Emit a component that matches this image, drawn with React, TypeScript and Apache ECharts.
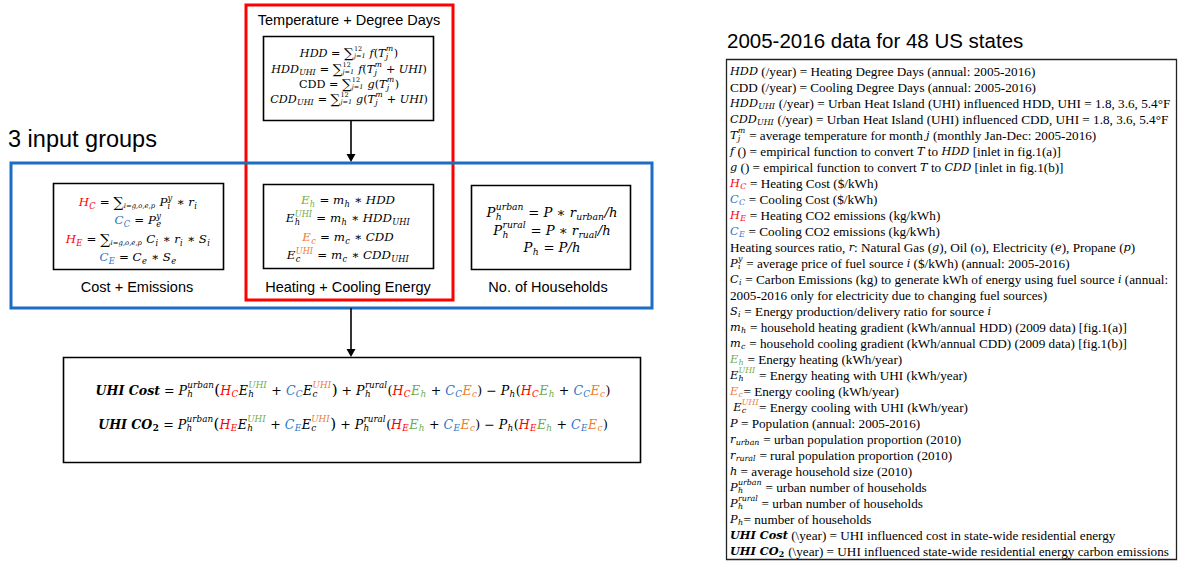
import React, { useEffect, useRef } from 'react';
import * as echarts from 'echarts';

const RED = '#ff0000';
const BLUE = '#2e75c6';
const GREEN = '#70ad47';
const ORANGE = '#ed7d31';
const BOX_BLUE = '#1b6ec2';

type Tok = {
  t: string; f?: string; c?: string; s?: number; ss?: number;
  sub?: string; sup?: string; subc?: string; supc?: string; subf?: string; supf?: string;
};
const m = (t: string, o: Partial<Tok> = {}): Tok => ({ t, f: 'i', ...o });
const n = (t: string, o: Partial<Tok> = {}): Tok => ({ t, f: 'n', ...o });
const bi = (t: string, o: Partial<Tok> = {}): Tok => ({ t, f: 'bi', ...o });
const SUM = (sub: string, sup?: string): Tok => ({ t: '∑', f: 'n', s: 1.2, ss: 0.58, sub, sup, supf: 'n' });
const EQ = n(' = ');
const MUL = n(' ∗ ');

// ---- text content ----
const headerTitle = 'Temperature + Degree Days';
const groupsTitle = '3 input groups';
const glossaryTitle = '2005-2016 data for 48 US states';
const groupLabels = ['Cost + Emissions', 'Heating + Cooling Energy', 'No. of Households'];

const degreeDayLines: Tok[][] = [
  [m('HDD'), EQ, SUM('j=1', '12'), m(' f'), n('('), m('T', { sub: 'j', sup: 'm' }), n(')')],
  [m('HDD', { sub: 'UHI' }), EQ, SUM('j=1', '12'), m(' f'), n('('), m('T', { sub: 'j', sup: 'm' }), n(' + '), m('UHI'), n(')')],
  [n('CDD'), EQ, SUM('j=1', '12'), m(' g'), n('('), m('T', { sub: 'j', sup: 'm' }), n(')')],
  [m('CDD', { sub: 'UHI' }), EQ, SUM('j=1', '12'), m(' g'), n('('), m('T', { sub: 'j', sup: 'm' }), n(' + '), m('UHI'), n(')')],
];

const costLines: Tok[][] = [
  [m('H', { c: RED, sub: 'C' }), EQ, SUM('i=g,o,e,p'), m(' P', { sub: 'i', sup: 'y' }), MUL, m('r', { sub: 'i' })],
  [m('C', { c: BLUE, sub: 'C' }), EQ, m('P', { sub: 'e', sup: 'y' })],
  [m('H', { c: RED, sub: 'E' }), EQ, SUM('i=g,o,e,p'), m(' C', { sub: 'i' }), MUL, m('r', { sub: 'i' }), MUL, m('S', { sub: 'i' })],
  [m('C', { c: BLUE, sub: 'E' }), EQ, m('C', { sub: 'e' }), MUL, m('S', { sub: 'e' })],
];

const energyLines: Tok[][] = [
  [m('E', { c: GREEN, sub: 'h' }), EQ, m('m', { sub: 'h' }), MUL, m('HDD')],
  [m('E', { sub: 'h', sup: 'UHI', supc: GREEN }), EQ, m('m', { sub: 'h' }), MUL, m('HDD', { sub: 'UHI' })],
  [m('E', { c: ORANGE, sub: 'c' }), EQ, m('m', { sub: 'c' }), MUL, m('CDD')],
  [m('E', { sub: 'c', sup: 'UHI', supc: ORANGE }), EQ, m('m', { sub: 'c' }), MUL, m('CDD', { sub: 'UHI' })],
];

const householdLines: Tok[][] = [
  [m('P', { sub: 'h', sup: 'urban' }), EQ, m('P'), MUL, m('r', { sub: 'urban' }), m('/h')],
  [m('P', { sub: 'h', sup: 'rural' }), EQ, m('P'), MUL, m('r', { sub: 'rual' }), m('/h')],
  [m('P', { sub: 'h' }), EQ, m('P/h')],
];

const uhiLines: Tok[][] = [
  [bi('UHI Cost'), EQ, m('P', { sub: 'h', sup: 'urban' }), n('(', { s: 1.2 }),
    m('H', { c: RED, sub: 'C' }), m('E', { sub: 'h', sup: 'UHI', supc: GREEN }), n(' + '),
    m('C', { c: BLUE, sub: 'C' }), m('E', { sub: 'c', sup: 'UHI', supc: ORANGE }), n(')', { s: 1.2 }),
    n(' + '), m('P', { sub: 'h', sup: 'rural' }), n('('),
    m('H', { c: RED, sub: 'C' }), m('E', { c: GREEN, sub: 'h' }), n(' + '),
    m('C', { c: BLUE, sub: 'C' }), m('E', { c: ORANGE, sub: 'c' }), n(')'),
    n(' − '), m('P', { sub: 'h' }), n('('),
    m('H', { c: RED, sub: 'C' }), m('E', { c: GREEN, sub: 'h' }), n(' + '),
    m('C', { c: BLUE, sub: 'C' }), m('E', { c: ORANGE, sub: 'c' }), n(')')],
  [bi('UHI CO', { sub: '2', subf: 'n' }), EQ, m('P', { sub: 'h', sup: 'urban' }), n('(', { s: 1.2 }),
    m('H', { c: RED, sub: 'E' }), m('E', { sub: 'h', sup: 'UHI', supc: GREEN }), n(' + '),
    m('C', { c: BLUE, sub: 'E' }), m('E', { sub: 'c', sup: 'UHI', supc: ORANGE }), n(')', { s: 1.2 }),
    n(' + '), m('P', { sub: 'h', sup: 'rural' }), n('('),
    m('H', { c: RED, sub: 'E' }), m('E', { c: GREEN, sub: 'h' }), n(' + '),
    m('C', { c: BLUE, sub: 'E' }), m('E', { c: ORANGE, sub: 'c' }), n(')'),
    n(' − '), m('P', { sub: 'h' }), n('('),
    m('H', { c: RED, sub: 'E' }), m('E', { c: GREEN, sub: 'h' }), n(' + '),
    m('C', { c: BLUE, sub: 'E' }), m('E', { c: ORANGE, sub: 'c' }), n(')')],
];

const glossaryLines: Tok[][] = [
  [m('HDD'), n(' (/year) = Heating Degree Days (annual: 2005-2016)')],
  [n('CDD (/year) = Cooling Degree Days (annual: 2005-2016)')],
  [m('HDD', { sub: 'UHI' }), n(' (/year) = Urban Heat Island (UHI) influenced HDD, UHI = 1.8, 3.6, 5.4°F')],
  [m('CDD', { sub: 'UHI' }), n(' (/year) = Urban Heat Island (UHI) influenced CDD, UHI = 1.8, 3.6, 5.4°F')],
  [m('T', { sub: 'j', sup: 'm' }), n(' = average temperature for month '), m('j'), n(' (monthly Jan-Dec: 2005-2016)')],
  [m('f'), n(' () = empirical function to convert '), m('T'), n(' to '), m('HDD'), n(' [inlet in fig.1(a)]')],
  [m('g'), n(' () = empirical function to convert '), m('T'), n(' to '), m('CDD'), n(' [inlet in fig.1(b)]')],
  [m('H', { c: RED, sub: 'C' }), n(' = Heating Cost ($/kWh)')],
  [m('C', { c: BLUE, sub: 'C' }), n(' = Cooling Cost ($/kWh)')],
  [m('H', { c: RED, sub: 'E' }), n(' = Heating CO2 emissions (kg/kWh)')],
  [m('C', { c: BLUE, sub: 'E' }), n(' = Cooling CO2 emissions (kg/kWh)')],
  [n('Heating sources ratio, '), m('r'), n(': Natural Gas ('), m('g'), n('), Oil (o), Electricity ('), m('e'), n('), Propane ('), m('p'), n(')')],
  [m('P', { sub: 'i', sup: 'y' }), n(' = average price of fuel source '), m('i'), n(' ($/kWh) (annual: 2005-2016)')],
  [m('C', { sub: 'i' }), n(' = Carbon Emissions (kg) to generate kWh of energy using fuel source '), m('i'), n(' (annual:')],
  [n('2005-2016 only for electricity due to changing fuel sources)')],
  [m('S', { sub: 'i' }), n(' = Energy production/delivery ratio for source '), m('i')],
  [m('m', { sub: 'h' }), n(' = household heating gradient (kWh/annual HDD) (2009 data) [fig.1(a)]')],
  [m('m', { sub: 'c' }), n(' = household cooling gradient (kWh/annual CDD) (2009 data) [fig.1(b)]')],
  [m('E', { c: GREEN, sub: 'h' }), n(' = Energy heating (kWh/year)')],
  [m('E', { sub: 'h', sup: 'UHI', supc: GREEN }), n(' = Energy heating with UHI (kWh/year)')],
  [m('E', { c: ORANGE, sub: 'c' }), n('= Energy cooling (kWh/year)')],
  [n(' '), m('E', { sub: 'c', sup: 'UHI', supc: ORANGE }), n('= Energy cooling with UHI (kWh/year)')],
  [m('P'), n(' = Population (annual: 2005-2016)')],
  [m('r', { sub: 'urban' }), n(' = urban population proportion (2010)')],
  [m('r', { sub: 'rural' }), n(' = rural population proportion (2010)')],
  [m('h'), n(' = average household size (2010)')],
  [m('P', { sub: 'h', sup: 'urban' }), n(' = urban number of households')],
  [m('P', { sub: 'h', sup: 'rural' }), n(' = urban number of households')],
  [m('P', { sub: 'h' }), n('= number of households')],
  [bi('UHI Cost'), n(' (\\year) = UHI influenced cost in state-wide residential energy')],
  [bi('UHI CO', { sub: '2', subf: 'n' }), n(' (\\year) = UHI influenced state-wide residential energy carbon emissions')],
];

// ---- layout helpers ----
const SERIF = 'Liberation Serif';
const MATH = 'DejaVu Serif';
const SANS = 'Liberation Sans';
let ctx: CanvasRenderingContext2D | null = null;
function fontStr(f: string, size: number, fam: string) {
  return `${f.includes('i') ? 'italic' : 'normal'} ${f.includes('b') ? 'bold' : 'normal'} ${size}px "${fam}"`;
}
function measure(t: string, f: string, size: number, fam: string) {
  if (!ctx) ctx = document.createElement('canvas').getContext('2d');
  ctx!.font = fontStr(f, size, fam);
  return ctx!.measureText(t).width;
}

function textEl(text: string, x: number, y: number, f: string, size: number, fill: string, fam: string, align = 'left') {
  return {
    type: 'text', x, y, silent: true,
    style: {
      text, fill, fontSize: size, fontFamily: fam,
      fontStyle: f.includes('i') ? 'italic' : 'normal',
      fontWeight: f.includes('b') ? 'bold' : 'normal',
      align, verticalAlign: 'middle',
    },
  };
}

// mathSize: size of math tokens; textSize: size of upright prose tokens (glossary)
function buildLine(tokens: Tok[], mathSize: number, y: number, ax: number, align: 'left' | 'center', els: any[], textSize?: number) {
  const items: { text: string; x: number; dy: number; f: string; size: number; c: string; fam: string }[] = [];
  let x = 0;
  const push = (t: string, px: number, dy: number, f: string, sz: number, c: string, fam: string) => {
    const lead = t.length - t.trimStart().length;
    const off = lead ? measure(t.slice(0, lead), f, sz, fam) : 0;
    const tt = t.trim();
    if (tt) items.push({ text: tt, x: px + off, dy, f, size: sz, c, fam });
    return measure(t, f, sz, fam);
  };
  for (const tk of tokens) {
    const f = tk.f || 'n';
    const prose = textSize !== undefined && f === 'n';
    const fam = prose ? SERIF : MATH;
    const base = prose ? textSize! : mathSize;
    const sz = base * (tk.s || 1);
    x += push(tk.t, x, 0, f, sz, tk.c || '#000', fam);
    if (tk.sub || tk.sup) {
      const ratio = tk.ss || 0.7;
      const ss = base * ratio;
      const bold = f.includes('b') ? 'b' : '';
      let ws = 0, wp = 0;
      const subDy = base * (tk.ss ? 0.3 : 0.32);
      const supDy = -base * (tk.ss ? 0.34 : 0.38);
      if (tk.sub) ws = push(tk.sub, x + 0.3, subDy, (tk.subf || 'i') + bold, ss, tk.subc || tk.c || '#000', MATH);
      if (tk.sup) wp = push(tk.sup, x + 0.3, supDy, (tk.supf || 'i') + bold, ss, tk.supc || tk.c || '#000', MATH);
      x += Math.max(ws, wp) + 0.8;
    }
  }
  const x0 = align === 'center' ? ax - x / 2 : ax;
  for (const it of items) els.push(textEl(it.text, x0 + it.x, y + it.dy, it.f, it.size, it.c, it.fam));
}

function rect(x: number, y: number, w: number, h: number, stroke: string, lw: number) {
  return { type: 'rect', silent: true, shape: { x, y, width: w, height: h }, style: { fill: 'none', stroke, lineWidth: lw } };
}
function arrow(x: number, y1: number, y2: number, els: any[]) {
  els.push({ type: 'line', silent: true, shape: { x1: x, y1, x2: x, y2: y2 - 6 }, style: { stroke: '#000', lineWidth: 1.6 } });
  els.push({ type: 'polygon', silent: true, shape: { points: [[x - 4.5, y2 - 8], [x + 4.5, y2 - 8], [x, y2]] }, style: { fill: '#000' } });
}

function buildGraphics() {
  const els: any[] = [];
  // frames
  els.push(rect(246, 5, 207, 295, RED, 3));
  els.push(rect(11, 163, 641, 145, BOX_BLUE, 3));
  els.push(rect(263.5, 36.5, 170, 84, '#000', 1.6));
  els.push(rect(53.5, 183.5, 170, 86, '#000', 1.6));
  els.push(rect(263.5, 184.5, 170, 84, '#000', 1.6));
  els.push(rect(471.5, 185.5, 159, 84, '#000', 1.6));
  els.push(rect(63.5, 357.5, 577, 105, '#000', 1.6));
  els.push(rect(726.5, 59.5, 450, 500, '#222', 1.3));
  arrow(351, 121, 162, els);
  arrow(351, 308, 357, els);

  // sans labels
  els.push(textEl(headerTitle, 349, 20, 'n', 14.5, '#000', SANS, 'center'));
  els.push(textEl(groupsTitle, 8, 139, 'n', 23.5, '#000', SANS, 'left'));
  els.push(textEl(glossaryTitle, 727, 40, 'n', 20.5, '#000', SANS, 'left'));
  els.push(textEl(groupLabels[0], 137, 287, 'n', 14.5, '#000', SANS, 'center'));
  els.push(textEl(groupLabels[1], 348, 287, 'n', 14.5, '#000', SANS, 'center'));
  els.push(textEl(groupLabels[2], 548, 287, 'n', 14.5, '#000', SANS, 'center'));

  // formulas
  const ddY = [53, 69, 84, 99];
  degreeDayLines.forEach((l, i) => buildLine(l, 11.2, ddY[i], 349, 'center', els));
  const cY = [202, 220, 239, 257];
  costLines.forEach((l, i) => buildLine(l, 11.8, cY[i], 138, 'center', els));
  const eY = [200, 218, 237, 255];
  energyLines.forEach((l, i) => buildLine(l, 11.8, eY[i], 348, 'center', els));
  const hY = [212, 230, 247];
  householdLines.forEach((l, i) => buildLine(l, 13.2, hY[i], 552, 'center', els));
  const uY = [390, 424];
  uhiLines.forEach((l, i) => buildLine(l, 12.6, uY[i], 353, 'center', els));

  glossaryLines.forEach((l, i) => buildLine(l, 11.3, 71 + i * 16, 730, 'left', els, 13.2));
  return els;
}

export default function App() {
  const ref = useRef<HTMLDivElement>(null);
  useEffect(() => {
    document.body.style.margin = '0';
    const chart = echarts.init(ref.current!, undefined, { renderer: 'svg' });
    chart.setOption({ animation: false, backgroundColor: '#fff', graphic: { elements: buildGraphics() } });
    return () => chart.dispose();
  }, []);
  return <div ref={ref} style={{ width: 1179, height: 563 }} />;
}
